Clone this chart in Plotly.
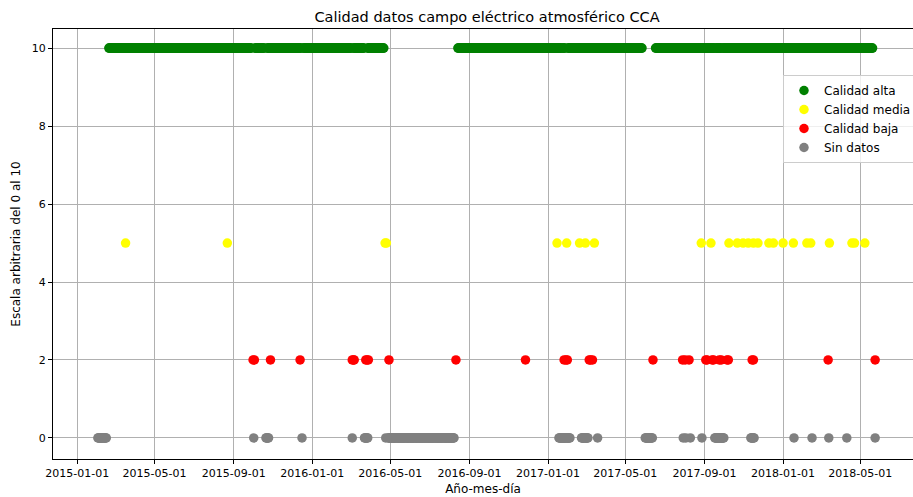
import pandas as pd
import plotly.graph_objects as go

# Daily quality flags of the CCA atmospheric electric field record.
# High quality days come in continuous runs (start, end).
alta_runs = [
    ("2015-02-19", "2015-09-28"),
    ("2015-10-04", "2015-10-18"),
    ("2015-10-23", "2015-12-14"),
    ("2015-12-18", "2016-03-01"),
    ("2016-03-05", "2016-03-21"),
    ("2016-03-27", "2016-04-21"),
    ("2016-08-14", "2017-01-21"),
    ("2017-01-24", "2017-01-27"),
    ("2017-02-01", "2017-05-27"),
    ("2017-06-17", "2017-09-16"),
    ("2017-09-19", "2017-09-27"),
    ("2017-09-30", "2018-05-20"),
]

media_dates = [
    "2015-03-17", "2015-08-22", "2016-04-23", "2016-04-25",
    "2017-01-15", "2017-01-30", "2017-02-19", "2017-02-28", "2017-03-14",
    "2017-08-27", "2017-09-11", "2017-10-09", "2017-10-22", "2017-10-31",
    "2017-11-08", "2017-11-16", "2017-11-23", "2017-12-10", "2017-12-17",
    "2018-01-01", "2018-01-17", "2018-02-07", "2018-02-13", "2018-03-14",
    "2018-04-18", "2018-04-22", "2018-05-08",
]

baja_dates = [
    "2015-10-01", "2015-10-03", "2015-10-28", "2015-12-13",
    "2016-03-03", "2016-03-05", "2016-03-06", "2016-03-24", "2016-03-26", "2016-03-28",
    "2016-04-29", "2016-08-11", "2016-11-27",
    "2017-01-26", "2017-01-29", "2017-01-31",
    "2017-03-06", "2017-03-08", "2017-03-11", "2017-06-13",
    "2017-07-29", "2017-08-02", "2017-08-08",
    "2017-09-03", "2017-09-05", "2017-09-13", "2017-09-15",
    "2017-09-24", "2017-09-27", "2017-10-06", "2017-10-08",
    "2017-11-14", "2017-11-16", "2018-03-12", "2018-05-24",
]

sin_datos_runs = [
    ("2015-02-02", "2015-02-15"),
    ("2015-10-02", "2015-10-02"),
    ("2015-10-21", "2015-10-25"),
    ("2015-12-16", "2015-12-16"),
    ("2016-03-03", "2016-03-03"),
    ("2016-03-22", "2016-03-27"),
    ("2016-04-24", "2016-04-24"),
    ("2016-04-28", "2016-08-08"),
    ("2017-01-18", "2017-02-04"),
    ("2017-02-22", "2017-03-04"),
    ("2017-03-19", "2017-03-19"),
    ("2017-06-01", "2017-06-12"),
    ("2017-07-30", "2017-07-30"),
    ("2017-08-03", "2017-08-03"),
    ("2017-08-10", "2017-08-10"),
    ("2017-08-28", "2017-08-28"),
    ("2017-09-17", "2017-10-01"),
    ("2017-11-12", "2017-11-17"),
    ("2018-01-18", "2018-01-18"),
    ("2018-02-15", "2018-02-15"),
    ("2018-03-13", "2018-03-13"),
    ("2018-04-10", "2018-04-10"),
    ("2018-05-24", "2018-05-24"),
]

x_ticks = ["2015-01-01", "2015-05-01", "2015-09-01", "2016-01-01", "2016-05-01",
           "2016-09-01", "2017-01-01", "2017-05-01", "2017-09-01", "2018-01-01",
           "2018-05-01"]
y_ticks = [0, 2, 4, 6, 8, 10]

LEVEL_ALTA, LEVEL_MEDIA, LEVEL_BAJA, LEVEL_SIN = 10, 5, 2, 0


def expand(runs):
    days = []
    for start, end in runs:
        days.extend(pd.date_range(start, end, freq="D"))
    return days


alta_dates = expand(alta_runs)
sin_datos_dates = expand(sin_datos_runs)

series = [
    ("Calidad alta", alta_dates, LEVEL_ALTA, "#008000"),
    ("Calidad media", pd.to_datetime(media_dates), LEVEL_MEDIA, "#ffff00"),
    ("Calidad baja", pd.to_datetime(baja_dates), LEVEL_BAJA, "#ff0000"),
    ("Sin datos", sin_datos_dates, LEVEL_SIN, "#808080"),
]

fig = go.Figure()
for name, dates, level, color in series:
    fig.add_trace(go.Scatter(
        x=list(dates), y=[level] * len(dates), mode="markers", name=name,
        marker=dict(color=color, size=9.5, line=dict(width=0)),
    ))

font_family = "DejaVu Sans"
plot_w = 913 - 53
plot_h = 497 - 29 - 38
fig.update_layout(
    width=913, height=497,
    margin=dict(l=53, r=0, t=29, b=38, autoexpand=False),
    paper_bgcolor="white", plot_bgcolor="white",
    font=dict(family=font_family, color="black", size=11),
    title=dict(text="Calidad datos campo eléctrico atmosférico CCA",
               x=487 / 913, xref="container", xanchor="center",
               y=1 - 17 / 497, yref="container", yanchor="middle",
               font=dict(size=14.5, family=font_family, color="black")),
    legend=dict(x=(783 - 53) / plot_w, y=(459 - 75) / plot_h,
                xanchor="left", yanchor="top",
                bgcolor="rgba(255,255,255,0.8)", bordercolor="#cccccc", borderwidth=1,
                font=dict(size=12, family=font_family), tracegroupgap=0),
    showlegend=True,
)
fig.update_xaxes(
    type="date", automargin=False,
    range=["2014-11-24 07:00", "2018-07-21 19:00"],
    tickvals=x_ticks, ticktext=x_ticks,
    showgrid=True, gridcolor="#b0b0b0", gridwidth=0.8,
    showline=True, linecolor="black", linewidth=1, mirror=True,
    ticks="outside", ticklen=4, tickcolor="black",
    tickfont=dict(size=11), zeroline=False,
    title=dict(text="Año-mes-día", font=dict(size=12), standoff=5),
)
fig.update_yaxes(
    automargin=False,
    range=[-0.54, 10.49],
    tickvals=y_ticks,
    showgrid=True, gridcolor="#b0b0b0", gridwidth=0.8,
    showline=True, linecolor="black", linewidth=1,
    ticks="outside", ticklen=4, tickcolor="black",
    tickfont=dict(size=11), zeroline=False,
    title=dict(text="Escala arbitraria del 0 al 10", font=dict(size=12), standoff=8),
)

fig.write_html("out.html")
